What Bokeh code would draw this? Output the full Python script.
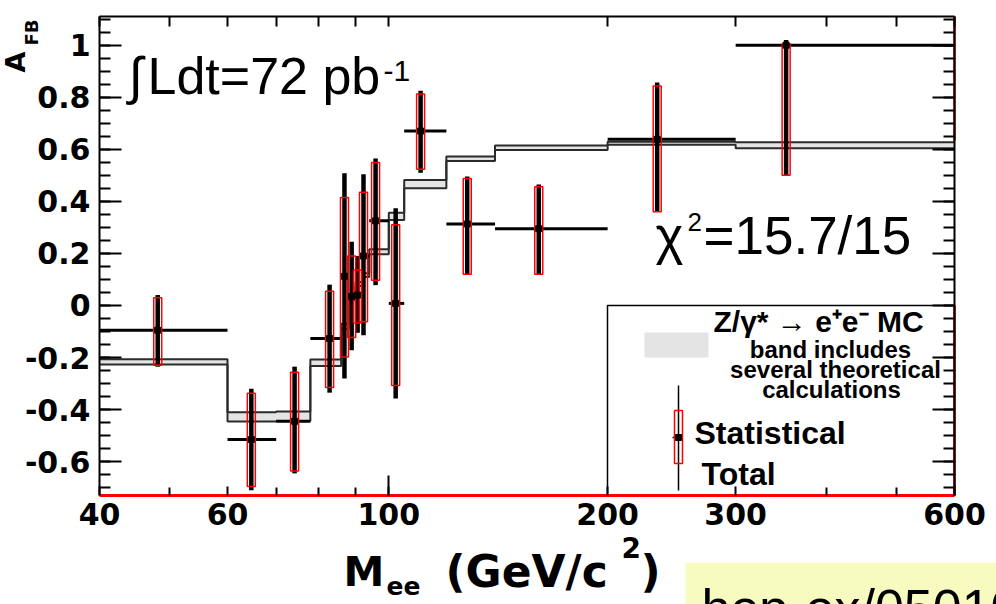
import math
from bokeh.plotting import figure
from bokeh.models import (FixedTicker, NumeralTickFormatter, LogAxis, LinearAxis,
                          Label, BoxAnnotation, Range1d)
from bokeh.embed import file_html
from bokeh.resources import INLINE

# ---------------------------------------------------------------- data
# dielectron mass bins (GeV/c^2)
bin_lo = [40, 60, 70, 78, 86, 88, 90, 92, 94, 100, 105, 120, 140, 200, 300]
bin_hi = [60, 70, 78, 86, 88, 90, 92, 94, 100, 105, 120, 140, 200, 300, 600]
# measured A_FB, plotted at the mean mass of each bin
mass = [48.1, 64.7, 74.2, 82.9, 86.9, 88.9, 90.6, 92.3, 95.9, 102.2, 110.6, 128.2, 160.8, 234.0, 352.0]
afb = [-0.095, -0.515, -0.445, -0.127, 0.112, 0.035, 0.040, 0.190, 0.325, 0.008, 0.670, 0.313, 0.295, 0.638, 1.000]
stat_up = [0.125, 0.178, 0.188, 0.182, 0.303, 0.155, 0.096, 0.245, 0.224, 0.302, 0.142, 0.175, 0.161, 0.205, 0.005]
stat_dn = [0.135, 0.180, 0.191, 0.188, 0.310, 0.158, 0.107, 0.253, 0.228, 0.315, 0.147, 0.193, 0.175, 0.278, 0.500]
tot_up = [0.135, 0.195, 0.210, 0.207, 0.396, 0.210, 0.150, 0.314, 0.240, 0.365, 0.155, 0.182, 0.170, 0.218, 0.020]
tot_dn = [0.140, 0.195, 0.200, 0.208, 0.393, 0.207, 0.145, 0.304, 0.247, 0.365, 0.160, 0.193, 0.175, 0.278, 0.500]
# Z/gamma* -> ee MC prediction band (lower / upper edge per bin)
mc_lo = [-0.227, -0.446, -0.444, -0.233, -0.090, 0.020, 0.075, 0.109, 0.197, 0.328, 0.450, 0.555, 0.597, 0.617, 0.604]
mc_hi = [-0.207, -0.410, -0.407, -0.208, -0.070, 0.033, 0.090, 0.124, 0.216, 0.356, 0.482, 0.572, 0.614, 0.629, 0.627]

x_major = [40, 60, 100, 200, 300, 600]
x_minor = [50, 70, 80, 90, 400, 500]
x_decade = [100]
y_major = [-0.6, -0.4, -0.2, 0, 0.2, 0.4, 0.6, 0.8, 1.0]
y_minor = [round(-0.7 + 0.05 * i, 2) for i in range(37)]

# ---------------------------------------------------------------- geometry
# The drawing area is the whole canvas; the axes are pinned at the edges
# of the (40..600) x (-0.73..1.11) box so that titles and notes around
# them can be placed freely.
W, H = 996, 604
FL, FT, FR, FB = 99, 16, 954, 495          # pixel box of the axes
XA = (40.0, 600.0)
YA = (-0.73, 1.11)
LX0, LX1 = math.log10(XA[0]), math.log10(XA[1])


def xd(px):
    """canvas pixel column -> mass value on the log axis"""
    return 10 ** (LX0 + (px - FL) / (FR - FL) * (LX1 - LX0))


def yd(py):
    """canvas pixel row -> A_FB value"""
    return YA[1] - (py - FT) / (FB - FT) * (YA[1] - YA[0])


p = figure(x_axis_type="log", x_range=Range1d(xd(0), xd(W)), y_range=Range1d(yd(H), yd(0)),
           width=W, height=H, min_border=0,
           output_backend="svg", toolbar_location=None,
           background_fill_color="white", border_fill_color="white")
p.title.visible = False
p.grid.visible = False
p.outline_line_color = None

# ---------------------------------------------------------------- axes
xt = FixedTicker(ticks=x_major, minor_ticks=x_minor)
yt = FixedTicker(ticks=y_major, minor_ticks=y_minor)


def style(ax, tin, mtin, labels=True):
    ax.axis_line_color = "black"
    ax.axis_line_width = 2
    ax.major_tick_line_color = "black"
    ax.minor_tick_line_color = "black"
    ax.major_tick_line_width = 2
    ax.minor_tick_line_width = 2
    ax.major_tick_in = tin
    ax.major_tick_out = 0
    ax.minor_tick_in = mtin
    ax.minor_tick_out = 0
    if labels:
        ax.major_label_text_font = "DejaVu Sans"
        ax.major_label_text_font_style = "bold"
        ax.major_label_text_font_size = "30px"
        ax.major_label_text_color = "black"
    else:
        ax.major_label_text_color = None


left = p.yaxis[0]
left.ticker = yt
left.formatter = NumeralTickFormatter(format="0.[0]")
left.fixed_location = XA[0]
left.bounds = YA
style(left, 22, 11)
left.major_label_standoff = 9

bottom = p.xaxis[0]
bottom.ticker = xt
bottom.formatter = NumeralTickFormatter(format="0")
bottom.fixed_location = YA[0]
bottom.bounds = XA
style(bottom, 9, 8)
bottom.axis_line_color = "#ff0000"
bottom.axis_line_width = 3
bottom.major_label_standoff = 7

# longer tick at the decade mark
decade = LogAxis(ticker=FixedTicker(ticks=x_decade, minor_ticks=[]),
                 fixed_location=YA[0], bounds=XA)
style(decade, 20, 0, labels=False)
decade.axis_line_color = None
p.add_layout(decade, "below")

right = LinearAxis(ticker=yt, fixed_location=XA[1], bounds=YA)
style(right, 22, 11, labels=False)
p.add_layout(right, "right")

top = LogAxis(ticker=xt, fixed_location=YA[1], bounds=XA)
style(top, 10, 10, labels=False)
p.add_layout(top, "above")

# red trace along parts of the right frame edge
p.segment(x0=[XA[1], XA[1]], x1=[XA[1], XA[1]], y0=[0.634, YA[0]], y1=[YA[1], 0.0],
          line_color="#ff0000", line_width=2.5)

# ---------------------------------------------------------------- MC band
p.quad(left=bin_lo, right=bin_hi, bottom=mc_lo, top=mc_hi,
       fill_color="#e4e4e4", line_color=None)
edges = bin_lo + [bin_hi[-1]]
p.step(x=edges, y=mc_hi + [mc_hi[-1]], mode="after", line_color="#2b2b2b", line_width=2)
p.step(x=edges, y=mc_lo + [mc_lo[-1]], mode="after", line_color="#2b2b2b", line_width=2)

# ---------------------------------------------------------------- data points
p.segment(x0=bin_lo, x1=bin_hi, y0=afb, y1=afb, line_color="black", line_width=3)
p.segment(x0=mass, x1=mass,
          y0=[a - d for a, d in zip(afb, tot_dn)],
          y1=[a + u for a, u in zip(afb, tot_up)],
          line_color="black", line_width=4.5)
p.rect(x=mass, y=[a + (u - d) / 2 for a, u, d in zip(afb, stat_up, stat_dn)],
       width=8, height=[u + d for u, d in zip(stat_up, stat_dn)], width_units="screen",
       fill_color=None, line_color="#ff0000", line_width=1.5)
p.scatter(mass, afb, marker="square", size=6, color="black")

# ---------------------------------------------------------------- legend
p.add_layout(BoxAnnotation(left=xd(607), right=xd(954), top=yd(305), bottom=yd(495),
                           fill_color="white", fill_alpha=1, line_color="black",
                           line_alpha=1, line_width=1.5, level="underlay"))
p.add_layout(BoxAnnotation(left=xd(644), right=xd(708), top=yd(332), bottom=yd(357),
                           fill_color="#e4e4e4", fill_alpha=1, line_color=None,
                           level="underlay"))
lx = xd(678)
p.segment(x0=[lx], x1=[lx], y0=[yd(385)], y1=[yd(490)], line_color="black", line_width=1.5)
p.segment(x0=[xd(672)], x1=[lx], y0=[yd(437)], y1=[yd(437)], line_color="black", line_width=1.5)
p.rect(x=[lx], y=[yd(436.5)], width=8, height=[yd(410) - yd(463)], width_units="screen",
       fill_color=None, line_color="#ff0000", line_width=1.5)
p.scatter([lx], [yd(437)], marker="square", size=6, color="black")

# offset between the requested anchor and the drawn glyph baseline
K = 0.37


def txt(s, px, py, size, font="Liberation Sans", style="normal", align="left",
        angle=0.0):
    """text whose glyph baseline starts at canvas pixel (px, py)"""
    if angle:
        ax, ay = px - K * size, py
    else:
        ax, ay = px, py - K * size
    p.add_layout(Label(x=xd(ax), y=yd(ay), text=s, text_font=font,
                       text_font_size=f"{size}px", text_font_style=style,
                       text_align=align, text_baseline="alphabetic", angle=angle,
                       text_color="black"))


B = "Liberation Sans"
txt("Z/\u03b3* \u2192 e\u207ae\u207b MC", 713, 332, 30, B, "bold")
txt("band includes", 830, 358, 24, B, "bold", align="center")
txt("several theoretical", 835, 378, 24, B, "bold", align="center")
txt("calculations", 831, 398, 24, B, "bold", align="center")
txt("Statistical", 694, 444, 32, B, "bold")
txt("Total", 701, 485, 32, B, "bold")

# ---------------------------------------------------------------- annotations
txt("\u222b", 128, 95, 52)
txt("Ldt=72 pb", 147, 95, 52)
txt("-1", 383, 82, 30)
txt("\u03c7", 655, 255, 53)
txt("2", 687, 231, 26)
txt("=15.7/15", 703, 255, 53)

# axis titles
D = "DejaVu Sans"
txt("A", 25, 72, 27, D, "bold", angle=math.pi / 2)
txt("FB", 38, 45, 18, D, "bold", angle=math.pi / 2)
txt("M", 343, 587, 41, D, "bold")
txt("ee", 386, 595, 25, D, "bold")
txt("(GeV/c", 445, 587, 44, D, "bold")
txt("2", 621, 557, 28, D, "bold")
txt(")", 640, 587, 44, D, "bold")

# reference tag in its shaded box (anchored at the box's top-left corner)
p.add_layout(Label(x=xd(685), y=yd(562), text="hep-ex/0501023", text_font=B,
                   text_font_size="52px", text_baseline="top", text_color="black",
                   background_fill_color="#f7fbbf", padding=16))

open("out.html", "w").write(file_html(p, INLINE))
